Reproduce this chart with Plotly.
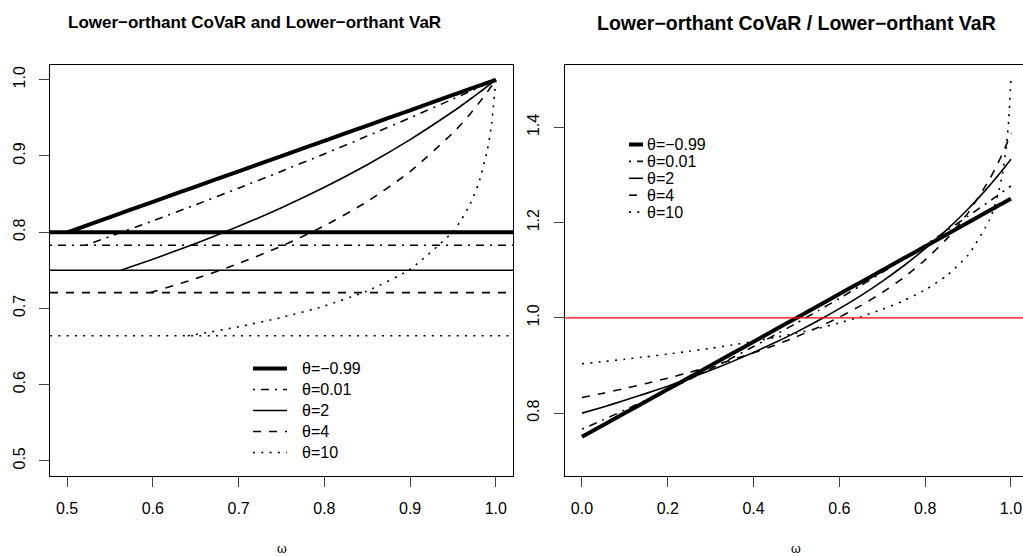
import plotly.graph_objects as go

# Weight grid for the CoVaR curves
omega = [0.0, 0.05, 0.1, 0.15, 0.2, 0.25, 0.3, 0.35, 0.4, 0.45, 0.5, 0.55,
         0.6, 0.65, 0.7, 0.75, 0.8, 0.85, 0.9, 0.95, 0.96, 0.97, 0.98, 0.99,
         0.995, 1.0]

theta_labels = ["θ=−0.99", "θ=0.01", "θ=2", "θ=4", "θ=10"]

# Lower-orthant CoVaR for each theta on the omega grid
covar_m099 = [0.6000, 0.6199, 0.6399, 0.6599, 0.6798, 0.6998, 0.7198, 0.7398,
              0.7598, 0.7798, 0.7998, 0.8198, 0.8398, 0.8598, 0.8798, 0.8998,
              0.9198, 0.9399, 0.9599, 0.9800, 0.9840, 0.9880, 0.9920, 0.9960,
              0.9980, 1.0000]
covar_001 = [0.6000, 0.6155, 0.6314, 0.6477, 0.6644, 0.6816, 0.6992, 0.7173,
             0.7358, 0.7548, 0.7743, 0.7944, 0.8149, 0.8360, 0.8577, 0.8799,
             0.9027, 0.9261, 0.9501, 0.9747, 0.9797, 0.9848, 0.9898, 0.9949,
             0.9974, 1.0000]
covar_2 = [0.6000, 0.6098, 0.6202, 0.6311, 0.6425, 0.6547, 0.6675, 0.6811,
           0.6956, 0.7111, 0.7276, 0.7454, 0.7645, 0.7851, 0.8076, 0.8321,
           0.8589, 0.8885, 0.9214, 0.9583, 0.9662, 0.9744, 0.9827, 0.9912,
           0.9956, 1.0000]
covar_4 = [0.6000, 0.6067, 0.6138, 0.6214, 0.6294, 0.6380, 0.6472, 0.6571,
           0.6678, 0.6794, 0.6921, 0.7061, 0.7217, 0.7391, 0.7589, 0.7816,
           0.8083, 0.8401, 0.8795, 0.9302, 0.9422, 0.9551, 0.9690, 0.9839,
           0.9918, 1.0000]
covar_10 = [0.6000, 0.6031, 0.6063, 0.6098, 0.6134, 0.6174, 0.6216, 0.6262,
            0.6312, 0.6367, 0.6427, 0.6494, 0.6570, 0.6657, 0.6758, 0.6880,
            0.7031, 0.7229, 0.7514, 0.8008, 0.8167, 0.8369, 0.8645, 0.9074,
            0.9418, 1.0000]

# Lower-orthant VaR for each theta, and the weight where CoVaR reaches it
var_level = [0.7998, 0.7829, 0.7500, 0.7206, 0.6640]
omega_start = [0.5002, 0.5216, 0.5625, 0.5967, 0.6407]

ratio_ref = 1.0

covar_series = [covar_m099, covar_001, covar_2, covar_4, covar_10]
widths = [4.0, 1.6, 1.6, 1.6, 1.6]
dashes = ["solid", "2px,6px,8px,6px", "solid", "8px,8px", "2px,6.3px"]

W, H = 1023, 556
FONT = "Liberation Sans, Arial, sans-serif"


def px(x):
    return x / W


def py(y):
    return 1 - y / H


fig = go.Figure()
shapes = []
annotations = []

for cov, v, w0, lw, dsh in zip(covar_series, var_level, omega_start, widths, dashes):
    # left panel: CoVaR from the point where it meets VaR
    xs = [w0] + [o for o in omega if o > w0]
    ys = [v] + [c for o, c in zip(omega, cov) if o > w0]
    fig.add_trace(go.Scatter(x=xs, y=ys, mode="lines", xaxis="x", yaxis="y",
                             line=dict(color="black", width=lw, dash=dsh,
                                       shape="spline", smoothing=0.6),
                             showlegend=False, hoverinfo="skip"))
    # left panel: VaR level
    shapes.append(dict(type="line", xref="x domain", yref="y", x0=0, x1=1,
                       y0=v, y1=v, line=dict(color="black", width=lw, dash=dsh)))
    # right panel: CoVaR / VaR
    fig.add_trace(go.Scatter(x=omega, y=[c / v for c in cov], mode="lines",
                             xaxis="x2", yaxis="y2",
                             line=dict(color="black", width=lw, dash=dsh,
                                       shape="spline", smoothing=0.6),
                             showlegend=False, hoverinfo="skip"))

shapes.append(dict(type="line", xref="x2 domain", yref="y2", x0=0, x1=1,
                   y0=ratio_ref, y1=ratio_ref, line=dict(color="#ff0000", width=1.3)))

# legends drawn by hand
for i, (lab, lw, dsh) in enumerate(zip(theta_labels, widths, dashes)):
    yl = 368.5 + 21 * i
    shapes.append(dict(type="line", xref="paper", yref="paper",
                       x0=px(253), x1=px(287), y0=py(yl), y1=py(yl),
                       line=dict(color="black", width=lw, dash=dsh)))
    annotations.append(dict(x=px(300), y=py(yl), xref="paper", yref="paper",
                            text=lab, showarrow=False, xanchor="left", yanchor="middle",
                            font=dict(family=FONT, size=16, color="black")))
    yr = 144.5 + 16.9 * i
    shapes.append(dict(type="line", xref="paper", yref="paper",
                       x0=px(629), x1=px(643), y0=py(yr), y1=py(yr),
                       line=dict(color="black", width=lw, dash=dsh)))
    annotations.append(dict(x=px(645), y=py(yr), xref="paper", yref="paper",
                            text=lab, showarrow=False, xanchor="left", yanchor="middle",
                            font=dict(family=FONT, size=16, color="black")))

left_box = (50, 513)
right_box = (564.8, 1023)
top, bottom = 64.5, 476

# panel titles: (centre x in px, font size, text)
titles = [(254, 17, "Lower−orthant CoVaR and Lower−orthant VaR"),
          ((564.8 + 1028) / 2, 19.5, "Lower−orthant CoVaR / Lower−orthant VaR")]
for xc, fs, t in titles:
    annotations.append(dict(x=px(xc), y=py(23), xref="paper", yref="paper",
                            text="<b>" + t + "</b>", showarrow=False,
                            xanchor="center", yanchor="middle",
                            font=dict(family=FONT, size=fs, color="black")))
for xc in [(50 + 513) / 2, (564.8 + 1028) / 2]:
    annotations.append(dict(x=px(xc), y=py(549), xref="paper", yref="paper",
                            text="ω", showarrow=False, xanchor="center", yanchor="middle",
                            font=dict(family="DejaVu Serif, serif", size=12, color="black")))

axis_common = dict(showgrid=False, zeroline=False, showline=True, linecolor="black",
                   linewidth=1.2, ticks="outside", ticklen=10, tickwidth=1.2,
                   tickcolor="#444", ticklabelstandoff=8,
                   tickfont=dict(family=FONT, size=16, color="black"))

left_ticks = [0.5, 0.6, 0.7, 0.8, 0.9, 1.0]
right_xticks = [0.0, 0.2, 0.4, 0.6, 0.8, 1.0]
right_yticks = [0.8, 1.0, 1.2, 1.4]

fig.update_layout(
    width=W, height=H, margin=dict(l=0, r=0, t=0, b=0),
    paper_bgcolor="white", plot_bgcolor="white", showlegend=False,
    xaxis=dict(domain=[px(left_box[0]), px(left_box[1])], range=[0.48, 1.02],
               tickvals=left_ticks, ticktext=[f"{t:.1f}" for t in left_ticks],
               anchor="y", mirror=True, **axis_common),
    yaxis=dict(domain=[py(bottom), py(top)], range=[0.48, 1.02],
               tickvals=left_ticks, ticktext=[f"{t:.1f}" for t in left_ticks],
               tickangle=-90, anchor="x", mirror=True, **axis_common),
    xaxis2=dict(domain=[px(right_box[0]), 1.0], range=[-0.04, 1.028],
                tickvals=right_xticks, ticktext=[f"{t:.1f}" for t in right_xticks],
                anchor="y2", mirror=True, **axis_common),
    yaxis2=dict(domain=[py(bottom), py(top)], range=[0.668, 1.532],
                tickvals=right_yticks, ticktext=[f"{t:.1f}" for t in right_yticks],
                tickangle=-90, anchor="x2", mirror=False, **axis_common),
    shapes=shapes, annotations=annotations,
)

fig.write_html("out.html")
